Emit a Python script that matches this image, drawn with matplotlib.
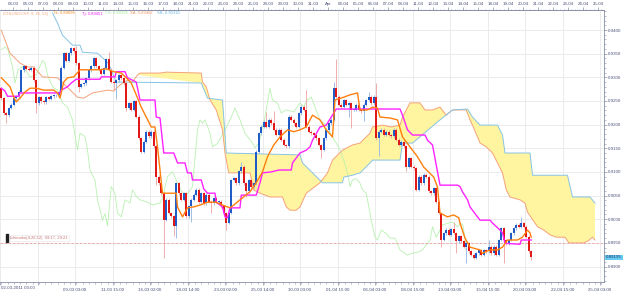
import matplotlib
matplotlib.use("Agg")
import matplotlib.pyplot as plt
from matplotlib.patches import Rectangle
from matplotlib.ticker import FixedLocator, MultipleLocator

plt.rcParams["font.family"] = ["Liberation Sans", "DejaVu Sans"]

# ---- candles (H4 bars, index 0 = 02-03-2011 03:00) ----
first_open = 0.9277
closes = [
    0.9256, 0.9224, 0.9220, 0.9235, 0.9242, 0.9256, 0.9260, 0.9270, 0.9315, 0.9323,
    0.9318, 0.9316, 0.9320, 0.9294, 0.9245, 0.9258, 0.9249, 0.9247, 0.9258, 0.9255,
    0.9260, 0.9262, 0.9262, 0.9270, 0.9320, 0.9351, 0.9335, 0.9351, 0.9361, 0.9355,
    0.9330, 0.9280, 0.9285, 0.9287, 0.9298, 0.9315, 0.9323, 0.9340, 0.9323, 0.9316,
    0.9308, 0.9319, 0.9338, 0.9316, 0.9291, 0.9287, 0.9294, 0.9305, 0.9298, 0.9287,
    0.9235, 0.9245, 0.9231, 0.9249, 0.9217, 0.9171, 0.9143, 0.9164, 0.9185, 0.9175,
    0.9185, 0.9154, 0.9090, 0.9076, 0.9055, 0.8999, 0.9041, 0.9013, 0.9006, 0.8985,
    0.9076, 0.9055, 0.9041, 0.9055, 0.9006, 0.9027, 0.9041, 0.9052, 0.9062, 0.9037,
    0.9055, 0.9034, 0.9052, 0.9037, 0.9034, 0.9044, 0.9037, 0.9037, 0.9027, 0.9013,
    0.8992, 0.9013, 0.9083, 0.9087, 0.9076, 0.9101, 0.9111, 0.9076, 0.9059, 0.9083,
    0.9069, 0.9076, 0.9143, 0.9182, 0.9196, 0.9206, 0.9196, 0.9210, 0.9203, 0.9189,
    0.9178, 0.9189, 0.9168, 0.9157, 0.9154, 0.9217, 0.9210, 0.9203, 0.9196, 0.9224,
    0.9238, 0.9231, 0.9196, 0.9185, 0.9182, 0.9178, 0.9171, 0.9157, 0.9147, 0.9171,
    0.9189, 0.9203, 0.9210, 0.9277, 0.9259, 0.9242, 0.9238, 0.9252, 0.9242, 0.9245,
    0.9231, 0.9231, 0.9242, 0.9231, 0.9228, 0.9242, 0.9252, 0.9259, 0.9245, 0.9259,
    0.9171, 0.9185, 0.9189, 0.9178, 0.9185, 0.9178, 0.9175, 0.9189, 0.9168, 0.9157,
    0.9164, 0.9154, 0.9111, 0.9129, 0.9111, 0.9108, 0.9062, 0.9090, 0.9076, 0.9094,
    0.9090, 0.9059, 0.9055, 0.9066, 0.9037, 0.9013, 0.8956, 0.8970, 0.8978, 0.8967,
    0.8979, 0.8971, 0.8953, 0.8964, 0.8953, 0.8942, 0.8949, 0.8932, 0.8925, 0.8918,
    0.8928, 0.8935, 0.8925, 0.8935, 0.8932, 0.8942, 0.8928, 0.8942, 0.8925, 0.8956,
    0.8981, 0.8956, 0.8949, 0.8956, 0.8970, 0.8981, 0.8988, 0.8984, 0.8991, 0.8984,
    0.8963, 0.8932, 0.8920,
]
wick_highs = {25: 0.9354, 30: 0.9366, 43: 0.9354, 96: 0.9121, 106: 0.9227,
              109: 0.9228, 122: 0.9273, 133: 0.9291, 134: 0.9338, 147: 0.9270,
              150: 0.9288, 181: 0.8994, 195: 0.8956, 208: 0.9005}
wick_lows = {2: 0.9203, 14: 0.9224, 31: 0.9270, 45: 0.9273, 46: 0.9255,
             50: 0.9228, 56: 0.9140, 62: 0.9073, 65: 0.8918, 69: 0.8964,
             70: 0.8960, 76: 0.8994, 84: 0.9013, 90: 0.8978, 98: 0.9048,
             128: 0.9129, 139: 0.9217, 140: 0.9193, 145: 0.9207, 151: 0.9133,
             162: 0.9101, 176: 0.8942, 182: 0.8928, 186: 0.8907, 201: 0.8907,
             212: 0.8914}

# ---- ichimoku lines: (bar, price) ----
tenkan = [(0, .9299), (1, .9294), (3.5, .9280), (5, .9258), (6, .9248), (7.5, .9256),
          (9.5, .9269), (11.5, .9277), (14, .9277), (17, .9273), (21, .9273), (22.5, .9267),
          (23.5, .9256), (25, .9290), (26.5, .9299), (29, .9301), (31.5, .9316), (39.5, .9316),
          (42, .9318), (45, .9312), (48, .9309), (50, .9299), (52, .9288), (54, .9263),
          (56, .9237), (58, .9216), (60, .9195), (61.5, .9195), (62.5, .9153), (64.5, .9055),
          (70, .9055), (70.5, .9026), (72.5, .9005), (74.5, .9024), (77, .9026), (79.5, .9030),
          (82.5, .9036), (86, .9036), (88.5, .9030), (91.5, .9024), (93, .9030), (95.5, .9041),
          (99.5, .9058), (102, .9077), (104.5, .9100), (106.5, .9132), (109, .9157),
          (111.5, .9174), (114.5, .9189), (117, .9185), (119.5, .9189), (122, .9195),
          (124.5, .9220), (127.5, .9210), (130, .9189), (132.5, .9174), (133.5, .9252),
          (137, .9258), (139.5, .9263), (142.5, .9267), (143.5, .9231), (146.5, .9231),
          (148.5, .9237), (150.5, .9235), (151.5, .9216), (155.5, .9214), (158.5, .9210),
          (160.5, .9174), (163.5, .9153), (166.5, .9132), (169, .9110), (173, .9089),
          (174.5, .9068), (175.5, .9013), (178.5, .9005), (181, .9009), (183, .9003),
          (183.5, .8992), (185.5, .8960), (187.5, .8941), (191.5, .8935), (192.5, .8928),
          (195.5, .8935), (198.5, .8935), (200.5, .8941), (202.5, .8956), (206.5, .8956),
          (208.5, .8962), (210.5, .8977), (211.5, .8971), (212, .8962)]
kijun = [(0, .9277), (1.5, .9271), (2.5, .9260), (7, .9260), (7.5, .9267), (23.5, .9267),
         (24, .9273), (26.5, .9280), (28, .9288), (30, .9296), (39.5, .9296), (40, .9301),
         (45.5, .9301), (46, .9312), (49.5, .9312), (50.5, .9299), (52.5, .9294), (54, .9290),
         (55.5, .9252), (61.5, .9252), (62, .9216), (63.5, .9214), (65, .9140), (69, .9140),
         (70.5, .9119), (73.5, .9119), (74.5, .9098), (76, .9098), (76.5, .9083), (80, .9083),
         (81, .9064), (82.5, .9055), (85.5, .9055), (86, .9036), (88.5, .9026), (89.5, .9005),
         (90.5, .9003), (91.5, .9024), (95.5, .9024), (96, .9051), (102, .9051), (103.5, .9077),
         (104.5, .9098), (108, .9100), (111, .9104), (116, .9104), (116.5, .9119),
         (119.5, .9140), (122, .9146), (123.5, .9153), (124.5, .9167), (127.5, .9195),
         (130, .9199), (134, .9233), (159.5, .9233), (160.5, .9220), (162.5, .9189),
         (164.5, .9178), (169.5, .9178), (170.5, .9167), (172.5, .9157), (175.5, .9072),
         (182.5, .9072), (183.5, .9069), (184.5, .9058), (186.5, .9041), (187.5, .9026),
         (190.5, .9005), (191.5, .8998), (195.5, .8998), (196.5, .8992), (199.5, .8977),
         (200.5, .8971), (201.5, .8949), (207.5, .8947), (208, .8956), (212, .8956)]
senkou_a = [(0, .9400), (1.5, .9379), (3.5, .9351), (7.5, .9330), (10.5, .9322), (13, .9322),
            (16.5, .9301), (22.5, .9299), (23.5, .9294), (30.5, .9258), (33, .9256),
            (36.5, .9267), (42.5, .9273), (45, .9271), (47.5, .9284), (50.5, .9294),
            (52.5, .9290), (54.5, .9305), (55.5, .9309), (63.5, .9309), (66, .9311),
            (80, .9309), (80.5, .9290), (82, .9280), (83.5, .9252), (86, .9231), (88.5, .9189),
            (89.5, .9140), (91, .9098), (99.5, .9098), (101, .9062), (103.5, .9055),
            (107.5, .9047), (112.5, .9047), (114, .9026), (115.5, .9019), (118, .9019),
            (119.5, .9026), (122, .9055), (127.5, .9077), (130.5, .9098), (132.5, .9125),
            (136.5, .9146), (140.5, .9157), (143.5, .9161), (147.5, .9182), (148.5, .9195),
            (152.5, .9199), (156, .9195), (159.5, .9199), (160.5, .9216), (163.5, .9246),
            (167.5, .9246), (169.5, .9231), (172.5, .9231), (175.5, .9237), (178, .9220),
            (180.5, .9231), (186, .9231), (187.5, .9210), (189, .9193), (191.5, .9161),
            (194, .9153), (196.5, .9140), (200.5, .9098), (202, .9062), (203.5, .9047),
            (207.5, .9041), (209.5, .9034), (210.5, .9015), (214.5, .8984), (217, .8977),
            (219.5, .8967), (222, .8962), (225.5, .8962), (227, .8950), (233, .8950),
            (235, .8955), (236.5, .8962), (237.5, .8956)]
senkou_b = [(20.5, .9436), (22.5, .9415), (24.5, .9389), (28.5, .9368), (31.5, .9368),
            (32.5, .9353), (38.5, .9351), (42.5, .9332), (43.5, .9322), (46, .9290),
            (80, .9288), (82.5, .9256), (88.5, .9252), (90, .9140), (119.5, .9136),
            (120.5, .9119), (124.5, .9098), (128.5, .9077), (136.5, .9077), (137, .9089),
            (140.5, .9093), (143.5, .9098), (147.5, .9119), (148.5, .9125), (159.5, .9125),
            (160.5, .9161), (164.5, .9161), (175.5, .9210), (180.5, .9231), (186.5, .9233),
            (188.5, .9216), (191.5, .9199), (198.5, .9199), (200.5, .9178), (201.5, .9140),
            (211.5, .9140), (212.5, .9093), (226.5, .9093), (228.5, .9047), (235.5, .9047),
            (237.5, .9034)]
chikou = [(0, .9358), (1.5, .9364), (2.7, .9358), (4.5, .9322), (5.5, .9288), (6.8, .9316),
          (8.5, .9323), (9.5, .9316), (11.5, .9301), (14, .9305), (16.5, .9336), (17.5, .9330),
          (18.5, .9305), (20.5, .9280), (22.5, .9273), (24.5, .9246), (26.5, .9237),
          (28.5, .9210), (30.5, .9146), (31.5, .9182), (33.5, .9175), (34.5, .9146),
          (35.5, .9104), (37.5, .9083), (38.5, .9041), (40.5, .8998), (41.5, .9012),
          (42.5, .8986), (44, .9069), (45.5, .9055), (46.5, .9013), (48, .9005), (49.5, .9041),
          (51.5, .9034), (52.5, .9062), (54, .9048), (55.5, .9041), (58, .9037), (60.5, .9030),
          (63.5, .9034), (64.5, .9045), (66.5, .9090), (68.5, .9100), (70, .9083), (72, .9060),
          (74, .9050), (76.5, .9069), (77, .9100), (78.5, .9189), (79.5, .9210), (80.5, .9203),
          (81.5, .9210), (83.5, .9182), (84.5, .9153), (86.5, .9160), (89.5, .9189),
          (91.5, .9210), (93.5, .9235), (95.5, .9210), (97.5, .9182), (100.5, .9161),
          (101.5, .9151), (103, .9160), (105.5, .9217), (107.5, .9277), (108.5, .9252),
          (110.5, .9245), (112, .9225), (114, .9231), (117, .9227), (119.5, .9246),
          (121, .9239), (122.5, .9252), (124, .9258), (125.5, .9237), (127.5, .9210),
          (130.5, .9196), (132.5, .9174), (134, .9161), (135.5, .9146), (137, .9125),
          (138.5, .9098), (139.5, .9069), (140.5, .9083), (142, .9086), (143.5, .9076),
          (144.5, .9062), (146, .9055), (148, .8998), (149.5, .8962), (150.5, .8956),
          (152, .8977), (154, .8970), (155.5, .8960), (157.5, .8960), (159.5, .8935),
          (162.5, .8924), (164.5, .8928), (166.5, .8930), (168.5, .8935), (171.5, .8956),
          (172.5, .8984), (174, .8962), (176.5, .8988), (180.5, .8994), (182.5, .8984),
          (183.5, .8990), (184.5, .8990), (185.5, .8962), (186, .8935)]
cloud_start = 54
ref_level = 0.8949
last_price = "0.89195"

top_labels = ["03-03", "04-03", "07-03", "08-03", "09-03", "10-03", "11-03", "14-03",
              "15-03", "16-03", "17-03", "18-03", "21-03", "22-03", "23-03", "24-03",
              "25-03", "28-03", "29-03", "30-03", "31-03", "Apr", "04-04", "05-04",
              "06-04", "07-04", "08-04", "11-04", "12-04", "13-04", "14-04", "15-04",
              "18-04", "19-04", "20-04", "21-04", "22-04", "23-04", "24-04", "25-04"]
bottom_labels = ["", "", "09-03 03:00", "11-03 15:00", "16-03 02:00", "18-03 14:00",
                 "23-03 02:00", "25-03 14:00", "30-03 03:00", "01-04 15:00", "06-04 03:00",
                 "08-04 15:00", "13-04 03:00", "15-04 15:00", "20-04 03:00", "22-04 15:00",
                 "25-04 03:00"]
first_label = "02-03-2011 03:00"

legend = [("ICH(USDCHF, 9, 26, 52)", "#f4a27a"), ("Tk: 0.89696", "#f08a1c"),
          ("Tj: 0.89451", "#f020f0"), ("CS: 0.89195", "#9ee89a"),
          ("SA: 0.89462", "#f09a6a"), ("SB: 0.90318", "#6cb8e0")]

AXC = "#8a8fa8"
TXT = "#4a5078"
FS = 3.2

fig = plt.figure(figsize=(6.25, 2.95), dpi=100)
ax = fig.add_axes([0, 0.044, 0.9664, 0.922])
ax.set_xlim(-0.5, 241.1)
ax.set_ylim(0.88672, 0.94423)

# grid
ax.set_axisbelow(True)
ax.grid(True, which="major", color="#ebebeb", lw=0.7)

# cloud: SA forward, SB backward
sa_cloud = [p for p in senkou_a if p[0] >= cloud_start]
sb_cloud = [p for p in senkou_b if p[0] >= cloud_start]
poly = sa_cloud + sb_cloud[::-1]
ax.fill([p[0] for p in poly], [p[1] for p in poly], color="#fff4a0", lw=0, zorder=1)

def draw_line(pts, **kw):
    ax.plot([p[0] for p in pts], [p[1] for p in pts], **kw)

draw_line(chikou, color="#b8f2b0", lw=0.6, zorder=2)
draw_line(senkou_a, color="#f4a27a", lw=0.7, zorder=2)
draw_line(senkou_b, color="#86c4e4", lw=0.7, zorder=2)

ax.axhline(ref_level, color="#e8a4a0", lw=0.6, ls=(0, (3, 2)), zorder=2)

# candles
opens = [first_open] + closes[:-1]
for i, (o, c) in enumerate(zip(opens, closes)):
    up = c >= o
    hi = wick_highs.get(i, max(o, c) + 0.0003)
    lo = wick_lows.get(i, min(o, c) - 0.0003)
    ax.vlines(i, lo, hi, color="#8fb4e4" if up else "#f0a0a0", lw=0.6, zorder=3)
    ax.bar(i, max(abs(c - o), 0.00012), bottom=min(o, c), width=0.65,
           color="#1f5cc8" if up else "#e01818", lw=0, zorder=4)

draw_line(kijun, color="#ff22ff", lw=1.0, zorder=5)
draw_line(tenkan, color="#ff7f0e", lw=1.0, zorder=6)

# axes styling
ax.spines["left"].set_visible(False)
for s in ["right", "top", "bottom"]:
    ax.spines[s].set_color(AXC)
    ax.spines[s].set_linewidth(0.6)

ax.yaxis.tick_right()
ax.yaxis.set_major_locator(MultipleLocator(0.005))
ax.yaxis.set_minor_locator(MultipleLocator(0.001))
ax.yaxis.set_major_formatter(lambda v, pos: f"{v:.4f}")
ax.tick_params(axis="y", which="major", labelsize=FS, labelcolor=TXT, color=AXC,
               length=2, width=0.5, pad=0.8)
ax.tick_params(axis="y", which="minor", color=AXC, length=1.2, width=0.4)

bottom_pos = [15 * k - 0.5 for k in range(len(bottom_labels))]
ax.xaxis.set_major_locator(FixedLocator(bottom_pos))
ax.xaxis.set_minor_locator(MultipleLocator(2.5))
ax.set_xticklabels(bottom_labels)
ax.tick_params(axis="x", which="major", labelsize=FS, labelcolor=TXT, color=AXC,
               length=2.5, width=0.5, pad=1.5)
ax.tick_params(axis="x", which="minor", color=AXC, length=1.2, width=0.4)
ax.text(0.002, -0.016, first_label, transform=ax.transAxes, fontsize=FS, color=TXT,
        ha="left", va="top")

top = ax.secondary_xaxis("top")
top_pos = [4.7 + 6 * k for k in range(len(top_labels))]
top.xaxis.set_major_locator(FixedLocator(top_pos))
top.set_xticklabels(top_labels)
top.xaxis.set_minor_locator(MultipleLocator(1.5))
top.tick_params(axis="x", which="major", labelsize=FS, labelcolor=TXT, color=AXC,
                length=2, width=0.5, pad=0.8)
top.tick_params(axis="x", which="minor", color=AXC, length=1.0, width=0.4)
top.spines["top"].set_color(AXC)
top.spines["top"].set_linewidth(0.6)

# legend line
xs = [3, 53, 82, 105, 130, 157]
for (txt, col), x in zip(legend, xs):
    fig.text(x / 625, 1 - 13.5 / 295, txt, fontsize=3.0, color=col, va="center")

# last price tag
fig.text(606 / 625, 1 - 257.5 / 295, last_price, fontsize=FS, color="#203060",
         va="center", ha="left",
         bbox=dict(boxstyle="square,pad=0.15", fc="#66ccf2", ec="none"))

# indicator tag at bottom-left
fig.add_artist(Rectangle((5.5 / 625, 1 - 242 / 295), 2.5 / 625, 8 / 295,
                         transform=fig.transFigure, color="#202020"))
fig.text(10.5 / 625, 1 - 238 / 295, "Ichimoku(9,26,52)  09:17, 29:21", fontsize=3.0,
         color="#c87070", va="center",
         bbox=dict(boxstyle="square,pad=0.2", fc="white", ec="#e4e4e4", lw=0.4))

fig.savefig("out.png", dpi=100)
